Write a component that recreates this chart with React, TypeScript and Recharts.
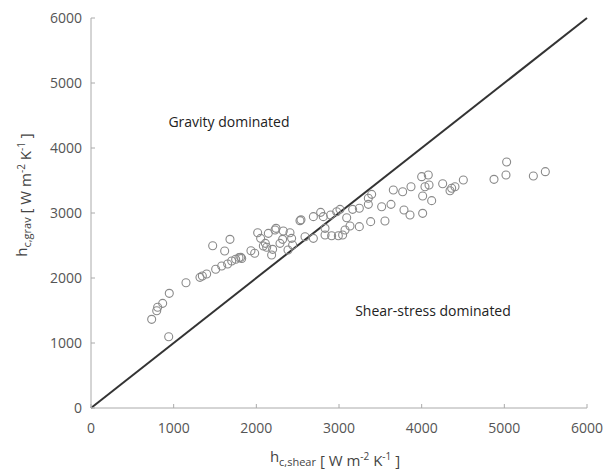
import React from "react";
import {
	ScatterChart,
	Scatter,
	XAxis,
	YAxis,
	ReferenceLine,
	ReferenceDot,
	Label,
} from "recharts";

const hShear = [
	734, 795, 806, 867, 947, 940, 1149, 1318, 1347, 1399, 1472, 1508, 1581, 1617, 1653,
	1681, 1702, 1750, 1790, 1811, 1823, 1935, 1980, 2016, 2052, 2085, 2109, 2125, 2145,
	2185, 2197, 2226, 2238, 2286, 2318, 2326, 2383, 2407, 2427, 2439, 2528, 2540, 2589,
	2690, 2690, 2778, 2810, 2831, 2831, 2899, 2911, 2972, 2992, 3012, 3044, 3073, 3093,
	3133, 3165, 3246, 3246, 3355, 3355, 3395, 3383, 3516, 3556, 3629, 3657, 3770, 3786,
	3859, 3871, 4000, 4012, 4012, 4040, 4080, 4089, 4121, 4254, 4343, 4363, 4403, 4504,
	4875, 5020, 5028, 5351, 5496,
];

const hGrav = [
	1364, 1497, 1549, 1610, 1764, 1097, 1928, 2010, 2031, 2062, 2497, 2134, 2185, 2415, 2215,
	2595, 2262, 2288, 2313, 2318, 2300, 2420, 2380, 2697, 2610, 2492, 2533, 2472, 2687,
	2354, 2441, 2738, 2764, 2533, 2595, 2723, 2431, 2697, 2610, 2508, 2882, 2895, 2635,
	2944, 2610, 3010, 2944, 2764, 2662, 2969, 2651, 3020, 2651, 3056, 2662, 2738, 2928,
	2800, 3056, 3072, 2790, 3133, 3226, 3287, 2867, 3097, 2877, 3133, 3354, 3328, 3046,
	2969, 3405, 3559, 3262, 2995, 3405, 3585, 3431, 3190, 3451, 3343, 3380, 3405, 3508,
	3518, 3585, 3785, 3569, 3636,
];

const axisTicks = [0, 1000, 2000, 3000, 4000, 5000, 6000];

const points = hShear.map((x, i) => ({ x, y: hGrav[i] }));

const FONT = "'Open Sans', 'Noto Sans', sans-serif";

const XTick = (props: any) => {
	const { x, y, payload } = props;
	return (
		<g>
			<line x1={x} x2={x} y1={y - 12} y2={y - 16} stroke="#aaa" />
			<text x={x} y={y} dy={13} textAnchor="middle" fontSize={14} fill="#555" fontFamily={FONT}>
				{payload.value}
			</text>
		</g>
	);
};

const YTick = (props: any) => {
	const { x, y, payload } = props;
	return (
		<g>
			<line x1={x + 9} x2={x + 13} y1={y} y2={y} stroke="#aaa" />
			<text x={x} y={y} dy={5} textAnchor="end" fontSize={14} fill="#555" fontFamily={FONT}>
				{payload.value}
			</text>
		</g>
	);
};

const Ring = (props: any) => (
	<circle cx={props.cx} cy={props.cy} r={4} fill="none" stroke="#8a8a8a" strokeWidth={1.1} />
);

const unitTail = (
	<>
		<tspan> [ W m</tspan>
		<tspan dy={-6} fontSize={10}>-2</tspan>
		<tspan dy={6}> K</tspan>
		<tspan dy={-6} fontSize={10}>-1</tspan>
		<tspan dy={6}> ]</tspan>
	</>
);

const XTitle = (props: any) => {
	const vb = props.viewBox;
	const cx = vb.x + vb.width / 2;
	return (
		<text x={cx - 4} y={462} textAnchor="middle" fontSize={15} fill="#444" fontFamily={FONT}>
			<tspan>h</tspan>
			<tspan dy={4} fontSize={11}>c,shear</tspan>
			<tspan dy={-4}></tspan>
			{unitTail}
		</text>
	);
};

const YTitle = (props: any) => {
	const vb = props.viewBox;
	const cy = vb.y + vb.height / 2 - 18;
	return (
		<text
			x={0}
			y={0}
			transform={`translate(27, ${cy}) rotate(-90)`}
			textAnchor="middle"
			fontSize={15}
			fill="#444"
			fontFamily={FONT}
		>
			<tspan>h</tspan>
			<tspan dy={4} fontSize={11}>c,grav</tspan>
			<tspan dy={-4}></tspan>
			{unitTail}
		</text>
	);
};

export default function App() {
	return (
		<div style={{ position: "absolute", left: 0, top: 0, background: "#fff" }}>
			<ScatterChart
				width={605}
				height={475}
				margin={{ top: 18, right: 18, left: 0, bottom: 0 }}
			>
				<XAxis
					type="number"
					dataKey="x"
					domain={[0, 6000]}
					ticks={axisTicks}
					height={67}
					stroke="#aaa"
					tickLine={false}
					tickSize={0}
					tickMargin={12}
					tick={<XTick />}
					interval={0}
				>
					<Label content={<XTitle />} />
				</XAxis>
				<YAxis
					type="number"
					dataKey="y"
					domain={[0, 6000]}
					ticks={axisTicks}
					width={91}
					stroke="#aaa"
					tickLine={false}
					tickSize={0}
					tickMargin={9}
					tick={<YTick />}
					interval={0}
				>
					<Label content={<YTitle />} />
				</YAxis>
				<ReferenceLine
					segment={[
						{ x: 0, y: 0 },
						{ x: 6000, y: 6000 },
					]}
					stroke="#333"
					strokeWidth={2}
				/>
				<Scatter data={points} shape={<Ring />} isAnimationActive={false} />
				<ReferenceDot x={1669} y={4400} r={0} stroke="none" fill="none">
					<Label value="Gravity dominated" position="center" fontSize={14} fill="#222" fontFamily={FONT} />
				</ReferenceDot>
				<ReferenceDot x={4137} y={1492} r={0} stroke="none" fill="none">
					<Label value="Shear-stress dominated" position="center" fontSize={14} fill="#222" fontFamily={FONT} />
				</ReferenceDot>
			</ScatterChart>
		</div>
	);
}
